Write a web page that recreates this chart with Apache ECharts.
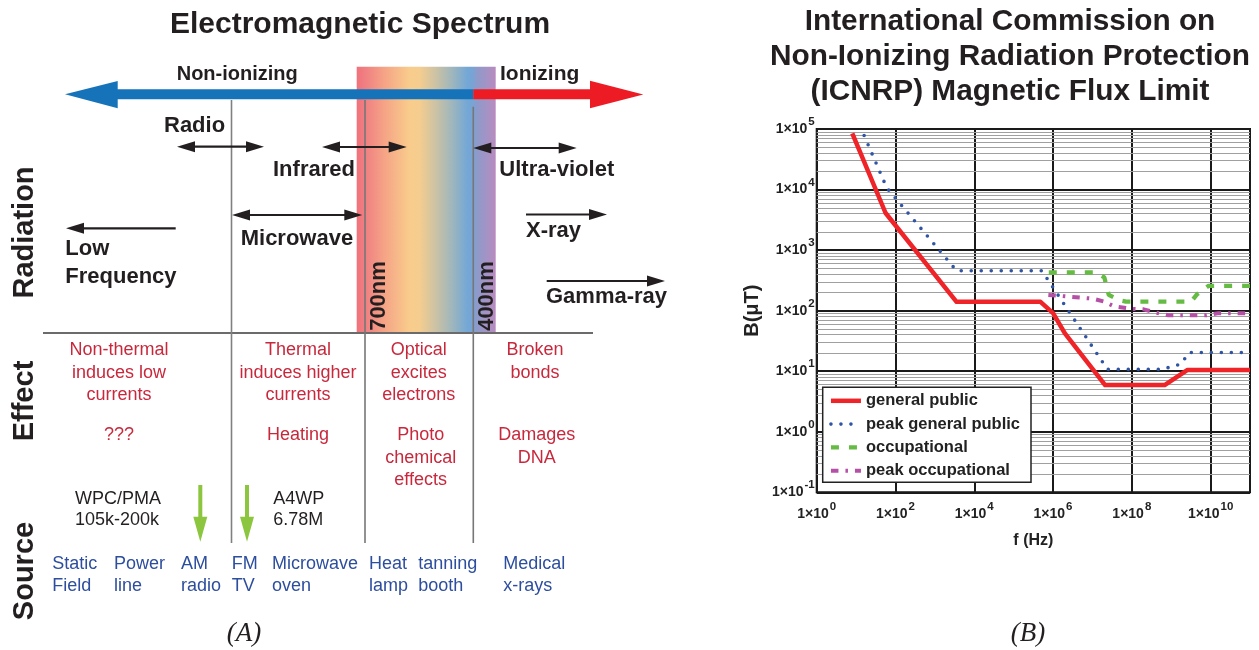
<!DOCTYPE html>
<html>
<head>
<meta charset="utf-8">
<script src="https://cdn.jsdelivr.net/npm/echarts@6.0.0/dist/echarts.min.js"></script>
<style>
html, body { margin: 0; padding: 0; background: #fff; }
#chart { width: 1259px; height: 650px; }
</style>
</head>
<body>
<div id="chart"></div>
<script>
// ---- ICNIRP magnetic flux limits: frequency (Hz) and B (µT) ----
const generalPublicFreq = [8, 56, 3550, 4.8e5, 1.0e6, 2.0e6, 2.1e7, 6.8e8, 2.6e9, 1e11];
const generalPublicB    = [85000, 4100, 140, 140, 91, 42, 5.9, 5.9, 10.5, 10.5];

const peakGeneralFreq = [16, 60, 3550, 5.2e5, 2.4e7, 5.8e8, 1.8e9, 2.8e9, 1e11];
const peakGeneralB    = [78000, 10700, 457, 457, 10.7, 10.7, 13.2, 20.4, 20.4];

const occupationalFreq = [7.8e5, 1.26e7, 2.0e7, 2.6e7, 5.0e7, 7.1e7, 3.2e9, 4.5e9, 8.9e9, 1e11];
const occupationalB    = [427, 427, 355, 182, 148, 141, 141, 186, 257, 257];

const peakOccupationalFreq = [7.6e5, 1.0e7, 2.0e7, 3.6e7, 1.0e8, 2.0e8, 4.0e8, 8.5e8, 7.9e9, 1.6e10, 1e11];
const peakOccupationalB    = [182, 158, 141, 117, 107, 105, 93, 84, 84, 91, 91];

const seriesNames = ['general public', 'peak general public', 'occupational', 'peak occupational'];

// axis ranges (decades)
const fRange = [1, 1e11];
const bRange = [0.1, 1e5];

// ---- spectrum diagram text ----
const spectrumTitle = 'Electromagnetic Spectrum';
const fluxTitle = ['International Commission on', 'Non-Ionizing Radiation Protection', '(ICNRP) Magnetic Flux Limit'];
const rowHeaders = ['Radiation', 'Effect', 'Source'];
const effectMain = [['Non-thermal', 'induces low', 'currents'], ['Thermal', 'induces higher', 'currents'],
                    ['Optical', 'excites', 'electrons'], ['Broken', 'bonds']];
const effectNote = [['???'], ['Heating'], ['Photo', 'chemical', 'effects'], ['Damages', 'DNA']];
const chargers = [['WPC/PMA', '105k-200k'], ['A4WP', '6.78M']];
const sources = [['Static', 'Field'], ['Power', 'line'], ['AM', 'radio'], ['FM', 'TV'], ['Microwave', 'oven'],
                 ['Heat', 'lamp'], ['tanning', 'booth'], ['Medical', 'x-rays']];

// ---- helpers for the diagram ----
const SANS = 'Liberation Sans';
const INK = '#231f20';
const EFFECT_RED = '#c8283c';
const SOURCE_BLUE = '#2d4e9e';

function txt(x, y, s, o) {
  o = o || {};
  return {
    type: 'text', x: x, y: y, rotation: o.rot || 0, silent: true, z: o.z || 10,
    style: {
      text: s, fill: o.color || INK, fontSize: o.size || 18,
      fontWeight: o.bold ? 'bold' : 'normal', fontStyle: o.italic ? 'italic' : 'normal',
      fontFamily: o.family || SANS, align: o.align || 'left', verticalAlign: 'middle'
    }
  };
}
function seg(x1, y1, x2, y2, color, w, z) {
  return { type: 'line', silent: true, z: z || 5, shape: { x1: x1, y1: y1, x2: x2, y2: y2 },
           style: { stroke: color, lineWidth: w } };
}
function poly(points, color, z) {
  return { type: 'polygon', silent: true, z: z || 6, shape: { points: points }, style: { fill: color } };
}
// horizontal arrow: heads at 'left', 'right' or both
const HEAD_LEN = 18, HEAD_HALF = 5.5;
function hArrow(x1, x2, y, left, right) {
  const out = [];
  const a = left ? x1 + HEAD_LEN - 1 : x1;
  const b = right ? x2 - HEAD_LEN + 1 : x2;
  out.push(seg(a, y, b, y, INK, 2.2, 6));
  if (left) out.push(poly([[x1, y], [x1 + HEAD_LEN, y - HEAD_HALF], [x1 + HEAD_LEN, y + HEAD_HALF]], INK, 7));
  if (right) out.push(poly([[x2, y], [x2 - HEAD_LEN, y - HEAD_HALF], [x2 - HEAD_LEN, y + HEAD_HALF]], INK, 7));
  return out;
}
function downArrow(x, yTop, yTip, color) {
  return [
    poly([[x - 2, yTop], [x + 2, yTop], [x + 2, yTip - 24], [x - 2, yTip - 24]], color, 7),
    poly([[x - 7, yTip - 25], [x + 7, yTip - 25], [x, yTip]], color, 7)
  ];
}

const g = [];

// visible light band
g.push({
  type: 'rect', silent: true, z: 1,
  shape: { x: 356.7, y: 66.7, width: 139, height: 266 },
  style: {
    fill: {
      type: 'linear', x: 0, y: 0, x2: 1, y2: 0,
      colorStops: [
        { offset: 0, color: '#f0727a' }, { offset: 0.06, color: '#f07f82' },
        { offset: 0.2, color: '#f5a486' }, { offset: 0.38, color: '#f9cc8c' },
        { offset: 0.45, color: '#f5cd8f' }, { offset: 0.56, color: '#cfc3a3' },
        { offset: 0.68, color: '#a1b7bb' }, { offset: 0.8, color: '#72a7d7' },
        { offset: 0.84, color: '#7aa3d3' }, { offset: 0.86, color: '#8c9bcb' },
        { offset: 1, color: '#b98bbf' }
      ]
    }
  }
});

// table rules
g.push(seg(43, 333, 593, 333, '#6b6b6b', 2, 4));
g.push(seg(231.5, 100, 231.5, 543, '#808080', 1.6, 4));
g.push(seg(365, 100, 365, 543, '#777777', 1.6, 4));
g.push(seg(473.3, 106.7, 473.3, 543, '#777777', 1.6, 4));

// non-ionizing / ionizing arrow
g.push(poly([[65, 94.3], [117.7, 81], [117.7, 89.3], [473.3, 89.3], [473.3, 99.3], [117.7, 99.3], [117.7, 108.3]], '#1673ba', 8));
g.push(poly([[473.3, 89.3], [590, 89.3], [590, 80.7], [643.3, 94.5], [590, 108.3], [590, 99.3], [473.3, 99.3]], '#ed1c24', 8));

// band arrows
[].push.apply(g, hArrow(177, 264, 146.7, true, true));     // radio
[].push.apply(g, hArrow(322, 406.7, 147, true, true));     // infrared
[].push.apply(g, hArrow(232, 362.3, 215, true, true));     // microwave
[].push.apply(g, hArrow(66, 175.7, 228.3, true, false));   // low frequency
[].push.apply(g, hArrow(473.3, 576.7, 148, true, true));   // ultra-violet
[].push.apply(g, hArrow(526, 607, 214.5, false, true));    // x-ray
[].push.apply(g, hArrow(546.7, 665, 281, false, true));    // gamma-ray

// charger markers
[].push.apply(g, downArrow(200.3, 485, 541.7, '#8cc63f'));
[].push.apply(g, downArrow(247, 485, 541.7, '#8cc63f'));

// titles
g.push(txt(360, 25, spectrumTitle, { size: 30, bold: true, align: 'center' }));
fluxTitle.forEach(function (s, i) { g.push(txt(1010, 21.5 + 35 * i, s, { size: 29.8, bold: true, align: 'center' })); });

// row headers (vertical)
const headerY = [232.5, 401, 571];
rowHeaders.forEach(function (s, i) { g.push(txt(24.5, headerY[i], s, { size: 29, bold: true, align: 'center', rot: Math.PI / 2 })); });

// band labels
g.push(txt(176.7, 74.7, 'Non-ionizing', { size: 20, bold: true }));
g.push(txt(500, 74.7, 'Ionizing', { size: 21, bold: true }));
g.push(txt(164, 126.3, 'Radio', { size: 22, bold: true }));
g.push(txt(273, 169.6, 'Infrared', { size: 22, bold: true }));
g.push(txt(240.7, 239, 'Microwave', { size: 22, bold: true }));
g.push(txt(65.3, 249, 'Low', { size: 22, bold: true }));
g.push(txt(65.3, 277.3, 'Frequency', { size: 22, bold: true }));
g.push(txt(499.3, 170, 'Ultra-violet', { size: 22, bold: true }));
g.push(txt(526, 230.6, 'X-ray', { size: 22, bold: true }));
g.push(txt(546, 297.3, 'Gamma-ray', { size: 22, bold: true }));
g.push(txt(378.5, 296, '700nm', { size: 22, bold: true, align: 'center', rot: Math.PI / 2 }));
g.push(txt(486.5, 296, '400nm', { size: 22, bold: true, align: 'center', rot: Math.PI / 2 }));

// effects
const effectX = [119, 298, 418.7, 535];
const noteX = [119, 298, 420.7, 536.7];
effectMain.forEach(function (lines, c) {
  lines.forEach(function (s, r) { g.push(txt(effectX[c], 350.4 + 22.5 * r, s, { color: EFFECT_RED, align: 'center' })); });
});
effectNote.forEach(function (lines, c) {
  lines.forEach(function (s, r) { g.push(txt(noteX[c], 435.4 + 22.5 * r, s, { color: EFFECT_RED, align: 'center' })); });
});

// charger bands
const chargerX = [75, 273.3];
chargers.forEach(function (lines, c) {
  lines.forEach(function (s, r) { g.push(txt(chargerX[c], 498.7 + 21.7 * r, s, { color: INK })); });
});

// sources
const sourceX = [52.3, 114, 181, 231.7, 272, 369, 418.3, 503.3];
sources.forEach(function (lines, c) {
  lines.forEach(function (s, r) { g.push(txt(sourceX[c], 563.7 + 22.3 * r, s, { color: SOURCE_BLUE })); });
});

// panel captions
g.push(txt(244, 634, '(A)', { size: 27, italic: true, family: 'Liberation Serif', align: 'center' }));
g.push(txt(1028, 634, '(B)', { size: 27, italic: true, family: 'Liberation Serif', align: 'center' }));

// ---- flux limit chart ----
function toPairs(fs, bs) { return fs.map(function (f, i) { return [f, bs[i]]; }); }

// minor grid: 2..9 within each decade of B
const minorB = [];
for (let e = -1; e < 5; e++) {
  for (let k = 2; k <= 9; k++) minorB.push(Number((k * Math.pow(10, e)).toPrecision(3)));
}

// "1×10" with a raised exponent
const powRich = {
  b: { fontSize: 14, fontWeight: 'bold', color: '#222', fontFamily: SANS, lineHeight: 26,
       padding: [0, 1, 0, 0], verticalAlign: 'middle' },
  s: { fontSize: 11.5, fontWeight: 'bold', color: '#222', fontFamily: SANS, lineHeight: 12, verticalAlign: 'top' }
};
function powLabel(v) {
  const e = Math.round(Math.log10(v));
  return '{b|1×10}{s|' + e + '}';
}

const option = {
  animation: false,
  backgroundColor: '#fff',
  graphic: g,
  grid: {
    left: 816.7, top: 129, right: 9, bottom: 157.7,
    show: true, borderColor: '#111', borderWidth: 2, backgroundColor: 'transparent'
  },
  legend: {
    data: seriesNames,
    orient: 'vertical', left: 822.7, top: 387.3,
    backgroundColor: '#fff', borderColor: '#222', borderWidth: 1.5,
    padding: [5, 11, 3, 6], itemGap: 6.3, itemWidth: 30, itemHeight: 16,
    itemStyle: { opacity: 0 },
    lineStyle: { width: 'inherit' },
    textStyle: { fontSize: 16.5, fontWeight: 'bold', color: '#222', fontFamily: SANS },
    z: 20
  },
  xAxis: {
    type: 'log', logBase: 100, min: fRange[0], max: fRange[1],
    axisLine: { show: false }, axisTick: { show: false },
    splitLine: { show: true, lineStyle: { color: '#1a1a1a', width: 2 } },
    axisLabel: {
      margin: 9,
      formatter: function (v) {
        const e = Math.round(Math.log10(v));
        return e % 2 === 0 ? powLabel(v) : '';
      },
      rich: powRich
    },
    name: 'f (Hz)', nameLocation: 'middle', nameGap: 40,
    nameTextStyle: { fontSize: 16, fontWeight: 'bold', color: '#222', fontFamily: SANS }
  },
  yAxis: {
    type: 'log', logBase: 10, min: bRange[0], max: bRange[1],
    axisLine: { show: false }, axisTick: { show: false },
    splitLine: { show: true, lineStyle: { color: '#1a1a1a', width: 2 } },
    axisLabel: { margin: 2, formatter: powLabel, rich: powRich },
    name: 'B(μT)', nameLocation: 'middle', nameGap: 54,
    nameTextStyle: { fontSize: 20, fontWeight: 'bold', color: '#222', fontFamily: SANS }
  },
  series: [
    {
      name: seriesNames[0], type: 'line', symbol: 'none', z: 5,
      data: toPairs(generalPublicFreq, generalPublicB),
      lineStyle: { color: '#ee2428', width: 4.5, join: 'round' },
      itemStyle: { color: '#ee2428' },
      markLine: {
        silent: true, symbol: 'none', z: 1, animation: false,
        label: { show: false }, emphasis: { disabled: true },
        lineStyle: { color: '#a0a0a0', width: 1, type: 'solid' },
        data: minorB.map(function (v) { return { yAxis: v }; })
      }
    },
    {
      name: seriesNames[1], type: 'line', symbol: 'none', z: 4,
      data: toPairs(peakGeneralFreq, peakGeneralB),
      lineStyle: { color: '#2f55a4', width: 3.6, type: [0, 10], cap: 'round' },
      itemStyle: { color: '#2f55a4' }
    },
    {
      name: seriesNames[2], type: 'line', symbol: 'none', z: 4,
      data: toPairs(occupationalFreq, occupationalB),
      lineStyle: { color: '#66bb44', width: 4.3, type: [8, 10] },
      itemStyle: { color: '#66bb44' }
    },
    {
      name: seriesNames[3], type: 'line', symbol: 'none', z: 4,
      data: toPairs(peakOccupationalFreq, peakOccupationalB),
      lineStyle: { color: '#b64fa6', width: 4, type: [7.5, 7, 2.5, 7] },
      itemStyle: { color: '#b64fa6' }
    }
  ]
};

const chart = echarts.init(document.getElementById('chart'), null, { renderer: 'canvas' });
chart.setOption(option);
</script>
</body>
</html>
